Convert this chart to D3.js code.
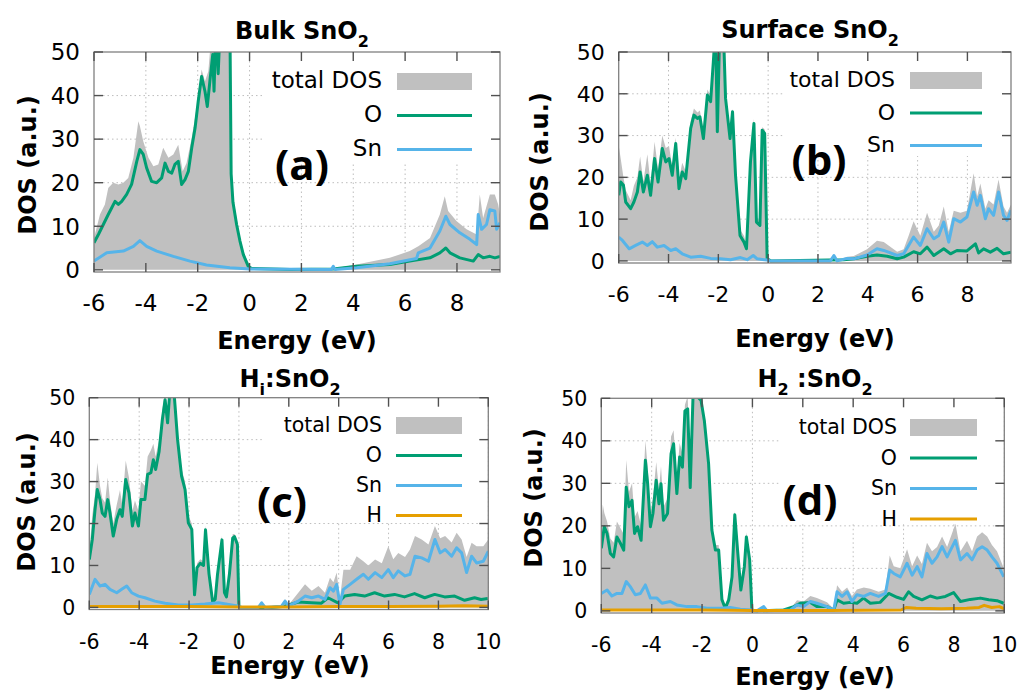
<!DOCTYPE html>
<html>
<head>
<meta charset="utf-8">
<script src="https://cdn.jsdelivr.net/npm/d3@7"></script>
<style>
  body { margin: 0; background: #fff; }
  svg { display: block; }
</style>
</head>
<body>
<script>
// tick values shared by the panels
const yTicks = [0, 10, 20, 30, 40, 50];
const xTicksTop = [-6, -4, -2, 0, 2, 4, 6, 8];
const xTicksBottom = [-6, -4, -2, 0, 2, 4, 6, 8, 10];

// (a) bulk SnO2, [energy, DOS]
const bulkTotal = [[-6.00,7.3],[-5.77,12.7],[-5.58,15.0],[-5.45,18.8],[-5.26,20.0],[-5.06,19.6],[-4.87,20.0],[-4.68,21.1],[-4.48,25.7],[-4.29,34.1],[-4.23,33.0],[-4.10,29.5],[-3.90,25.7],[-3.71,23.8],[-3.52,24.2],[-3.33,28.0],[-3.13,25.7],[-2.94,26.5],[-2.75,28.7],[-2.58,22.6],[-2.43,24.5],[-2.23,30.3],[-2.04,37.2],[-1.85,46.0],[-1.72,43.3],[-1.59,45.6],[-1.46,55],[-0.76,58],[-0.71,24],[-0.64,17.0],[-0.50,11.9],[-0.37,7.3],[-0.24,4.3],[-0.11,2.4],[0.08,0.3],[1.56,0.2],[3.23,0.3],[4.13,1.2],[5.41,2.75],[6.18,4.3],[6.51,5.4],[6.96,7.3],[7.34,12.7],[7.53,16.9],[7.66,13.5],[7.98,11.2],[8.37,9.3],[8.76,8.1],[8.88,17.3],[9.01,11.9],[9.27,17.3],[9.46,17.3],[9.59,15.0],[9.66,12.7]];
const bulkO = [[-6.00,6.2],[-5.83,8.1],[-5.64,10.4],[-5.45,12.7],[-5.32,14.2],[-5.19,15.7],[-5.06,15.0],[-4.93,15.7],[-4.74,17.3],[-4.55,19.6],[-4.35,24.9],[-4.23,27.6],[-4.10,26.5],[-3.97,23.4],[-3.78,20.3],[-3.58,20.0],[-3.39,21.1],[-3.26,24.5],[-3.13,22.6],[-3.00,22.2],[-2.88,24.2],[-2.75,24.9],[-2.62,19.6],[-2.49,20.7],[-2.36,22.6],[-2.23,28.0],[-2.10,32.6],[-1.98,38.7],[-1.85,44.4],[-1.72,41.0],[-1.63,37.5],[-1.53,43.3],[-1.42,49.4],[-1.37,41.0],[-1.30,56],[-1.21,45],[-1.12,58],[-0.76,58],[-0.71,22],[-0.64,15.5],[-0.50,10.4],[-0.37,6.6],[-0.24,3.5],[-0.05,0.8],[0.08,0.3],[1.56,0.1],[3.23,0.2],[4.13,0.8],[5.41,1.2],[6.18,2.0],[6.96,2.75],[7.34,3.9],[7.57,5.0],[7.73,3.9],[8.11,2.75],[8.63,2.0],[8.82,3.5],[9.01,2.75],[9.27,3.1],[9.46,2.75],[9.66,3.1]];
const bulkSn = [[-6.00,2.0],[-5.51,3.9],[-4.87,4.3],[-4.48,5.4],[-4.23,6.7],[-3.97,5.4],[-3.58,4.3],[-2.94,3.1],[-2.30,2.0],[-1.66,1.1],[-0.76,0.5],[0.02,0.2],[3.16,0.1],[3.23,0.8],[3.29,0.1],[4.13,0.5],[5.41,1.4],[6.44,2.6],[6.51,3.9],[6.96,5.0],[7.34,8.9],[7.57,12.3],[7.73,10.4],[8.11,8.5],[8.50,7.0],[8.76,5.8],[8.82,12.7],[8.95,9.3],[9.14,10.4],[9.27,13.8],[9.46,13.5],[9.53,9.3],[9.66,10.8]];

// (b) surface SnO2
const surfTotal = [[-6.00,27.7],[-5.92,24.5],[-5.81,20.0],[-5.72,17.0],[-5.52,14.5],[-5.39,18.0],[-5.25,20.0],[-5.14,25.0],[-5.01,19.0],[-4.85,25.5],[-4.72,18.5],[-4.56,28.5],[-4.42,22.0],[-4.25,30.0],[-4.11,27.0],[-3.98,27.5],[-3.85,22.5],[-3.71,29.5],[-3.58,19.5],[-3.45,23.5],[-3.31,21.5],[-3.11,33.5],[-2.98,36.5],[-2.84,35.5],[-2.74,36.0],[-2.60,31.0],[-2.44,41.0],[-2.31,39.5],[-2.20,49.0],[-2.11,56],[-2.04,32.0],[-1.94,56],[-1.80,56],[-1.71,40.0],[-1.53,30.5],[-1.43,36.5],[-1.31,21.5],[-1.13,7.5],[-0.97,6.0],[-0.87,4.0],[-0.71,25.0],[-0.57,34.0],[-0.47,10.5],[-0.33,9.5],[-0.24,32.0],[-0.14,31.5],[-0.04,1.0],[0.10,0.0],[2.50,0.0],[2.64,1.5],[2.77,0.1],[3.17,1.0],[3.44,1.2],[3.97,2.8],[4.37,4.8],[4.64,4.5],[5.18,2.2],[5.44,2.8],[5.64,6.0],[5.84,9.5],[6.11,6.0],[6.38,11.5],[6.65,7.0],[6.85,8.5],[7.05,13.0],[7.25,7.0],[7.45,12.0],[7.72,11.5],[7.98,12.0],[8.25,21.0],[8.39,15.5],[8.52,18.5],[8.72,12.5],[8.85,14.5],[9.05,13.5],[9.25,19.5],[9.45,13.0],[9.59,11.5],[9.75,13.5]];
const surfO = [[-6.00,15.7],[-5.92,18.9],[-5.81,18.1],[-5.72,14.1],[-5.52,12.5],[-5.39,14.1],[-5.25,16.5],[-5.14,21.3],[-5.01,16.5],[-4.85,20.5],[-4.72,15.7],[-4.56,24.5],[-4.42,18.9],[-4.25,26.9],[-4.11,23.7],[-3.98,24.5],[-3.85,20.5],[-3.71,28.1],[-3.58,17.3],[-3.45,21.3],[-3.31,19.7],[-3.11,31.7],[-2.98,34.9],[-2.84,34.1],[-2.74,34.5],[-2.60,29.3],[-2.44,39.7],[-2.31,38.1],[-2.20,47.7],[-2.11,56],[-2.04,30.9],[-1.94,56],[-1.80,56],[-1.71,38.9],[-1.53,29.3],[-1.43,35.7],[-1.31,20.5],[-1.13,6.1],[-0.97,4.5],[-0.87,2.9],[-0.71,23.7],[-0.57,32.9],[-0.47,9.3],[-0.33,8.5],[-0.24,31.3],[-0.14,30.5],[-0.04,0.5],[0.10,0.0],[3.04,0.3],[3.44,0.5],[3.97,1.1],[4.37,1.4],[4.78,1.1],[5.18,0.5],[5.44,0.9],[5.84,2.2],[6.11,1.7],[6.38,3.3],[6.65,1.3],[7.05,2.9],[7.32,1.7],[7.58,2.5],[7.98,2.4],[8.32,4.1],[8.45,1.9],[8.65,2.9],[8.92,2.1],[9.19,3.0],[9.45,1.7],[9.75,2.1]];
const surfSn = [[-6.00,5.7],[-5.85,4.9],[-5.58,2.9],[-5.32,3.7],[-5.05,4.5],[-4.85,3.7],[-4.65,4.6],[-4.45,3.3],[-4.18,3.7],[-3.91,2.5],[-3.71,2.9],[-3.45,1.7],[-3.11,0.9],[-2.71,1.1],[-2.31,0.6],[-1.91,0.5],[-1.51,0.3],[-1.11,0.8],[-0.84,0.3],[-0.60,1.3],[-0.44,0.5],[-0.04,0.2],[0.10,0.0],[2.50,0.0],[2.64,1.3],[2.77,0.0],[3.17,0.6],[3.44,0.5],[3.97,1.4],[4.37,2.9],[4.64,2.5],[5.18,1.3],[5.44,1.7],[5.64,3.7],[5.84,5.7],[6.11,3.7],[6.38,7.7],[6.65,5.3],[6.85,6.1],[7.05,9.3],[7.25,4.5],[7.45,10.1],[7.72,9.3],[7.98,10.5],[8.25,16.5],[8.39,13.3],[8.52,15.7],[8.72,10.1],[8.85,12.5],[9.05,10.9],[9.25,16.5],[9.45,10.9],[9.59,9.7],[9.75,12.1]];

// (c) Hi:SnO2
const hiTotal = [[-6.00,13.0],[-5.88,22.0],[-5.77,27.0],[-5.68,34.5],[-5.57,29.0],[-5.48,26.0],[-5.37,25.0],[-5.26,31.0],[-5.17,25.5],[-5.04,20.0],[-4.90,24.5],[-4.77,28.0],[-4.68,24.5],[-4.54,35.0],[-4.41,31.0],[-4.27,23.0],[-4.17,25.5],[-4.03,23.0],[-3.93,30.0],[-3.77,29.0],[-3.66,36.0],[-3.53,37.5],[-3.43,39.0],[-3.34,36.0],[-3.20,40.0],[-3.07,47.0],[-2.96,52],[-2.86,47],[-2.72,56],[-2.59,52],[-2.46,42.0],[-2.30,33.0],[-2.16,30.0],[-2.03,22.0],[-1.89,20.0],[-1.78,4.0],[-1.68,10.5],[-1.55,11.5],[-1.42,11.0],[-1.34,19.5],[-1.20,9.0],[-1.05,2.0],[-0.95,3.0],[-0.86,8.5],[-0.68,17.0],[-0.58,4.5],[-0.50,3.5],[-0.38,8.8],[-0.25,17.5],[-0.18,17.5],[-0.06,16.0],[0.00,0.6],[0.10,0.0],[0.78,0.0],[0.91,1.3],[1.05,0.0],[1.71,0.5],[1.85,2.0],[1.98,0.5],[2.38,3.5],[2.65,5.5],[2.92,4.0],[3.19,5.1],[3.45,3.5],[3.65,7.1],[3.79,6.0],[3.92,8.3],[4.05,2.0],[4.19,9.0],[4.46,9.0],[4.72,12.2],[4.99,11.0],[5.19,10.0],[5.46,11.4],[5.73,10.5],[5.99,14.6],[6.19,11.5],[6.39,13.0],[6.66,12.0],[6.86,13.8],[7.06,17.0],[7.33,16.2],[7.60,15.0],[7.86,19.4],[8.07,16.5],[8.27,17.0],[8.53,15.5],[8.73,17.8],[8.93,16.2],[9.13,12.0],[9.33,15.4],[9.53,14.6],[9.80,14.6],[10.0,16.2]];
const hiO = [[-6.00,11.4],[-5.88,16.2],[-5.77,23.3],[-5.68,28.1],[-5.57,25.7],[-5.48,22.5],[-5.37,21.7],[-5.26,25.7],[-5.17,22.5],[-5.04,17.0],[-4.90,21.0],[-4.77,23.3],[-4.68,21.7],[-4.54,30.5],[-4.41,27.3],[-4.27,19.4],[-4.17,22.5],[-4.03,19.4],[-3.93,25.7],[-3.77,25.7],[-3.66,31.7],[-3.53,32.1],[-3.43,35.2],[-3.34,32.9],[-3.20,37.2],[-3.07,44.8],[-2.96,49.5],[-2.86,44.0],[-2.72,56],[-2.59,50.3],[-2.46,40.0],[-2.30,31.3],[-2.16,28.1],[-2.03,20.2],[-1.89,18.6],[-1.78,3.0],[-1.68,9.5],[-1.55,10.5],[-1.42,10.0],[-1.34,18.5],[-1.20,8.0],[-1.05,1.2],[-0.95,2.0],[-0.86,7.8],[-0.68,16.1],[-0.58,3.5],[-0.50,2.5],[-0.38,8.0],[-0.25,16.5],[-0.18,16.9],[-0.06,15.0],[0.00,0.3],[0.10,0.0],[1.31,0.0],[1.84,0.3],[2.38,1.3],[2.91,1.1],[3.31,1.0],[3.57,2.3],[3.97,1.1],[4.24,2.7],[4.64,3.1],[5.04,2.7],[5.44,3.5],[5.84,2.7],[6.24,3.1],[6.64,2.5],[7.04,3.3],[7.45,2.3],[7.85,3.1],[8.25,2.5],[8.65,2.7],[9.05,1.7],[9.45,2.3],[9.71,1.9],[9.98,2.1]];
const hiSn = [[-6.00,3.1],[-5.77,6.7],[-5.57,5.1],[-5.37,5.5],[-5.17,4.3],[-4.90,3.5],[-4.70,4.3],[-4.50,5.1],[-4.30,3.5],[-4.03,2.7],[-3.77,2.3],[-3.37,1.5],[-2.96,1.0],[-2.43,0.6],[-1.89,0.6],[-1.36,0.8],[-0.82,1.1],[-0.29,0.6],[0.00,0.3],[0.10,0.0],[0.78,0.0],[0.91,1.1],[1.05,0.0],[1.71,0.3],[1.85,1.5],[1.98,0.3],[2.38,1.5],[2.65,2.7],[2.92,2.3],[3.19,2.7],[3.45,1.9],[3.65,4.7],[3.79,3.9],[3.92,5.5],[4.05,0.7],[4.19,4.3],[4.46,5.5],[4.72,6.7],[4.99,7.9],[5.19,6.7],[5.46,8.3],[5.73,7.1],[5.99,9.0],[6.19,7.1],[6.39,8.7],[6.66,7.5],[6.86,7.9],[7.06,12.2],[7.33,11.8],[7.60,11.0],[7.86,16.2],[8.07,13.0],[8.27,13.8],[8.53,12.2],[8.73,14.2],[8.93,13.0],[9.13,8.3],[9.33,12.2],[9.53,10.6],[9.80,11.0],[10.0,13.4]];
const hiH = [[-6,0.2],[-4,0.2],[-2,0.2],[0,0.1],[2,0.1],[4,0.2],[6,0.2],[8,0.3],[9,0.4],[10,0.3]];

// (d) H2:SnO2
const h2Total = [[-6.00,20.0],[-5.94,25.0],[-5.88,23.0],[-5.77,21.0],[-5.64,17.0],[-5.51,16.0],[-5.38,21.0],[-5.24,19.5],[-5.11,18.0],[-5.01,35.5],[-4.90,28.0],[-4.78,30.0],[-4.68,22.0],[-4.56,23.5],[-4.42,20.0],[-4.25,40.0],[-4.16,34.0],[-4.05,23.0],[-3.95,26.5],[-3.82,35.0],[-3.71,28.5],[-3.63,34.0],[-3.53,24.5],[-3.37,26.5],[-3.23,41.0],[-3.13,42.5],[-3.00,31.0],[-2.89,39.5],[-2.78,37.0],[-2.68,48.5],[-2.57,50.5],[-2.47,32.0],[-2.36,53],[-2.20,53],[-2.04,51],[-1.91,46.0],[-1.74,36.0],[-1.61,20.0],[-1.47,15.5],[-1.34,15.5],[-1.21,3.5],[-1.08,1.5],[-0.94,3.5],[-0.81,9.0],[-0.70,23.5],[-0.59,15.5],[-0.46,5.8],[-0.32,11.5],[-0.24,18.5],[-0.11,13.0],[-0.02,0.5],[0.18,0.0],[0.45,1.2],[0.58,0.0],[1.51,0.5],[1.77,2.5],[2.03,2.2],[2.30,3.5],[2.56,3.0],[2.96,2.0],[3.23,0.5],[3.36,6.0],[3.56,4.5],[3.76,5.5],[3.95,3.5],[4.15,5.0],[4.42,5.5],[4.68,5.2],[5.01,4.5],[5.28,5.0],[5.45,13.0],[5.61,10.5],[5.87,10.0],[6.14,14.5],[6.34,10.5],[6.54,13.0],[6.73,11.0],[6.93,16.0],[7.13,14.0],[7.33,15.0],[7.53,17.5],[7.73,15.0],[8.06,20.5],[8.26,14.0],[8.52,16.5],[8.72,14.0],[8.92,17.5],[9.12,18.5],[9.32,17.5],[9.51,15.5],[9.71,14.0],[9.98,10.0]];
const h2O = [[-6.00,14.7],[-5.88,19.8],[-5.77,18.2],[-5.64,13.5],[-5.51,12.7],[-5.38,17.4],[-5.24,15.9],[-5.11,14.3],[-5.01,29.1],[-4.90,24.5],[-4.78,26.0],[-4.68,18.2],[-4.56,19.8],[-4.42,16.6],[-4.25,35.4],[-4.16,29.9],[-4.05,19.8],[-3.95,22.9],[-3.82,30.7],[-3.71,25.2],[-3.63,29.9],[-3.53,21.3],[-3.37,22.9],[-3.23,37.0],[-3.13,39.3],[-3.00,27.6],[-2.89,36.2],[-2.78,33.8],[-2.68,47.0],[-2.57,47.5],[-2.47,29.0],[-2.36,50.2],[-2.20,50.5],[-2.04,49.5],[-1.91,44.8],[-1.74,34.6],[-1.61,19.0],[-1.47,14.3],[-1.34,14.3],[-1.21,2.6],[-1.08,0.6],[-0.94,2.6],[-0.81,8.0],[-0.70,22.6],[-0.59,14.3],[-0.46,4.9],[-0.32,10.4],[-0.24,17.4],[-0.11,12.0],[-0.02,0.2],[0.10,0.0],[1.24,0.2],[1.64,1.0],[1.90,1.8],[2.30,2.0],[2.57,1.0],[2.96,1.0],[3.23,0.2],[3.36,2.6],[3.62,1.8],[3.89,2.0],[4.15,1.8],[4.41,3.0],[4.68,1.8],[5.07,2.0],[5.41,4.1],[5.74,3.2],[6.00,2.7],[6.20,4.5],[6.40,3.4],[6.73,2.6],[7.06,3.5],[7.33,3.0],[7.66,3.4],[7.99,4.3],[8.26,2.2],[8.65,2.7],[9.05,3.0],[9.38,2.6],[9.71,2.4],[9.98,1.8]];
const h2Sn = [[-6.00,4.1],[-5.77,4.9],[-5.58,3.5],[-5.38,4.1],[-5.18,4.1],[-5.01,6.9],[-4.85,5.7],[-4.65,3.8],[-4.45,4.1],[-4.25,6.1],[-4.05,3.0],[-3.79,3.0],[-3.59,1.8],[-3.26,2.2],[-3.00,1.4],[-2.60,1.0],[-2.20,1.0],[-1.80,0.6],[-1.27,0.6],[-0.88,0.8],[-0.48,0.4],[-0.02,0.2],[0.18,0.0],[0.45,1.0],[0.58,0.0],[1.51,0.2],[1.77,1.4],[2.03,1.0],[2.30,2.2],[2.56,1.8],[2.96,1.0],[3.23,0.2],[3.36,4.5],[3.56,3.4],[3.76,4.5],[3.95,2.2],[4.15,3.8],[4.42,3.4],[4.68,4.1],[5.01,3.4],[5.28,4.1],[5.45,9.6],[5.61,8.8],[5.87,8.0],[6.14,11.2],[6.34,8.4],[6.54,10.4],[6.73,8.0],[6.93,13.5],[7.13,11.2],[7.33,12.7],[7.53,15.1],[7.73,12.7],[8.06,16.6],[8.26,12.0],[8.52,13.5],[8.72,12.0],[8.92,14.3],[9.12,15.1],[9.32,14.3],[9.51,12.7],[9.71,11.2],[9.98,8.0]];
const h2H = [[-6,0.2],[-2,0.2],[0,0.1],[3,0.1],[5.9,0.2],[6.1,0.8],[6.5,0.6],[7.5,0.5],[8.5,0.6],[9.0,0.8],[9.2,1.3],[9.5,0.8],[9.8,1.0],[10,0.5]];

const colours = { total: "#c0c0c0", O: "#009e73", Sn: "#56b4e9", H: "#e69f00" };

// layout of every panel (positions only, the values are above)
const panels = [
  { id: "a", title: [["Bulk SnO", 0], ["2", 1]], label: "(a)",
    total: bulkTotal, O: bulkO, Sn: bulkSn, H: null, xMax: 9.66, xTicks: xTicksTop,
    left: 94, right: 500, top: 52, bottom: 272, fs: 23,
    titleX: 302, titleY: 39, xLabelX: 297, xLabelY: 349, yLabelX: 36, yLabelY: 165,
    labelX: 302, labelY: 180,
    legText: 382, legS0: 397, legS1: 472, legY: 88, legStep: 34, box: [262, 162] },
  { id: "b", title: [["Surface SnO", 0], ["2", 1]], label: "(b)",
    total: surfTotal, O: surfO, Sn: surfSn, H: null, xMax: 9.75, xTicks: xTicksTop,
    left: 618.7, right: 1011, top: 52, bottom: 263, fs: 22,
    titleX: 810, titleY: 38, xLabelX: 815, xLabelY: 347, yLabelX: 548, yLabelY: 162,
    labelX: 819, labelY: 175,
    legText: 895, legS0: 910, legS1: 982, legY: 87, legStep: 32.5, box: [785, 156] },
  { id: "c", title: [["H", 0], ["i", 1], [":SnO", 0], ["2", 1]], label: "(c)",
    total: hiTotal, O: hiO, Sn: hiSn, H: hiH, xMax: 10, xTicks: xTicksBottom,
    left: 89.3, right: 488.3, top: 397.7, bottom: 609.5, fs: 20.5,
    titleX: 290, titleY: 387, xLabelX: 290, xLabelY: 674, yLabelX: 35, yLabelY: 502,
    labelX: 282, labelY: 517,
    legText: 382, legS0: 396, legS1: 462, legY: 432, legStep: 30, box: [262, 522] },
  { id: "d", title: [["H", 0], ["2", 1], [" :SnO", 0], ["2", 1]], label: "(d)",
    total: h2Total, O: h2O, Sn: h2Sn, H: h2H, xMax: 10, xTicks: xTicksBottom,
    left: 601.3, right: 1004.3, top: 398.3, bottom: 613, fs: 20.5,
    titleX: 815, titleY: 387, xLabelX: 815, xLabelY: 685, yLabelX: 542, yLabelY: 498,
    labelX: 810, labelY: 515,
    legText: 897, legS0: 910, legS1: 977, legY: 434, legStep: 30.5, box: [779, 523] }
];

const svg = d3.select("body").append("svg")
  .attr("width", 1024)
  .attr("height", 695)
  .style("font-family", "'DejaVu Sans', sans-serif");

panels.forEach(drawPanel);

function drawPanel(p) {
  const x = d3.scaleLinear().domain([-6, p.xMax]).range([p.left, p.right]);
  const y = d3.scaleLinear().domain([-0.5, 50]).range([p.bottom, p.top]);
  const g = svg.append("g").attr("class", "panel-" + p.id);

  g.append("clipPath").attr("id", "clip-" + p.id)
    .append("rect")
    .attr("x", p.left).attr("y", p.top)
    .attr("width", p.right - p.left).attr("height", p.bottom - p.top);

  // dotted grid
  g.selectAll(".gy").data(yTicks.slice(1, -1)).enter().append("line")
    .attr("x1", p.left).attr("x2", p.right)
    .attr("y1", d => y(d)).attr("y2", d => y(d))
    .attr("stroke", "#bdbdbd").attr("stroke-dasharray", "1.5,3");
  g.selectAll(".gx").data(p.xTicks.slice(1)).enter().append("line")
    .attr("x1", d => x(d)).attr("x2", d => x(d))
    .attr("y1", p.top).attr("y2", p.bottom)
    .attr("stroke", "#bdbdbd").attr("stroke-dasharray", "1.5,3");

  // opaque key box hides the grid behind it
  g.append("rect")
    .attr("x", p.box[0]).attr("y", p.top + 1)
    .attr("width", p.right - p.box[0] - 1).attr("height", p.box[1] - p.top - 1)
    .attr("fill", "#fff");

  const plot = g.append("g").attr("clip-path", "url(#clip-" + p.id + ")");

  const area = d3.area().x(d => x(d[0])).y0(y(0)).y1(d => y(d[1]));
  const line = d3.line().x(d => x(d[0])).y(d => y(d[1]));

  plot.append("path").datum(p.total)
    .attr("d", area).attr("fill", colours.total);

  const series = [["O", p.O], ["Sn", p.Sn]];
  if (p.H) series.push(["H", p.H]);
  series.forEach(function(s) {
    plot.append("path").datum(s[1])
      .attr("d", line)
      .attr("fill", "none")
      .attr("stroke", colours[s[0]])
      .attr("stroke-width", 3)
      .attr("stroke-linejoin", "round");
  });

  // frame and mirrored ticks
  g.append("rect")
    .attr("x", p.left).attr("y", p.top)
    .attr("width", p.right - p.left).attr("height", p.bottom - p.top)
    .attr("fill", "none").attr("stroke", "#808080").attr("stroke-width", 1.3);
  yTicks.forEach(function(t) {
    [[p.left, p.left + 9], [p.right, p.right - 9]].forEach(function(e) {
      g.append("line").attr("x1", e[0]).attr("x2", e[1])
        .attr("y1", y(t)).attr("y2", y(t))
        .attr("stroke", "#505050").attr("stroke-width", 1.4);
    });
  });
  p.xTicks.forEach(function(t) {
    [[p.bottom, p.bottom - 9], [p.top, p.top + 9]].forEach(function(e) {
      g.append("line").attr("x1", x(t)).attr("x2", x(t))
        .attr("y1", e[0]).attr("y2", e[1])
        .attr("stroke", "#505050").attr("stroke-width", 1.4);
    });
  });

  // tick labels
  g.selectAll(".ty").data(yTicks).enter().append("text")
    .attr("x", p.left - 14).attr("y", d => y(d))
    .attr("dy", "0.36em")
    .attr("text-anchor", "end")
    .style("font-size", p.fs + "px")
    .text(d => d);
  g.selectAll(".tx").data(p.xTicks).enter().append("text")
    .attr("x", d => x(d)).attr("y", p.bottom + 39)
    .attr("text-anchor", "middle")
    .style("font-size", p.fs + "px")
    .text(d => d);

  // title with subscripts
  const title = g.append("text")
    .attr("x", p.titleX).attr("y", p.titleY)
    .attr("text-anchor", "middle")
    .style("font-size", "24px").style("font-weight", "bold");
  let low = false;
  p.title.forEach(function(part) {
    const ts = title.append("tspan").text(part[0]);
    if (part[1] && !low) { ts.attr("dy", 8).style("font-size", "16px"); low = true; }
    else if (part[1]) { ts.style("font-size", "16px"); }
    else if (low) { ts.attr("dy", -8); low = false; }
  });

  // axis labels
  g.append("text")
    .attr("x", p.xLabelX).attr("y", p.xLabelY)
    .attr("text-anchor", "middle")
    .style("font-size", "24px").style("font-weight", "bold")
    .text("Energy (eV)");
  g.append("text")
    .attr("transform", "translate(" + p.yLabelX + "," + p.yLabelY + ") rotate(-90)")
    .attr("text-anchor", "middle")
    .style("font-size", "24px").style("font-weight", "bold")
    .text("DOS (a.u.)");

  // panel letter
  g.append("text")
    .attr("x", p.labelX).attr("y", p.labelY)
    .attr("text-anchor", "middle")
    .style("font-family", "'Open Sans', sans-serif")
    .style("font-size", "42px").style("font-weight", "bold")
    .text(p.label);

  // key
  const keys = [["total DOS", "total"], ["O", "O"], ["Sn", "Sn"]];
  if (p.H) keys.push(["H", "H"]);
  keys.forEach(function(k, i) {
    const by = p.legY + i * p.legStep;
    g.append("text")
      .attr("x", p.legText).attr("y", by)
      .attr("text-anchor", "end")
      .style("font-size", p.fs + "px")
      .text(k[0]);
    if (k[1] == "total") {
      g.append("rect")
        .attr("x", p.legS0).attr("y", by - 15)
        .attr("width", p.legS1 - p.legS0).attr("height", 17)
        .attr("fill", colours.total);
    } else {
      g.append("line")
        .attr("x1", p.legS0).attr("x2", p.legS1)
        .attr("y1", by - 6.5).attr("y2", by - 6.5)
        .attr("stroke", colours[k[1]]).attr("stroke-width", 3);
    }
  });
}
</script>
</body>
</html>
